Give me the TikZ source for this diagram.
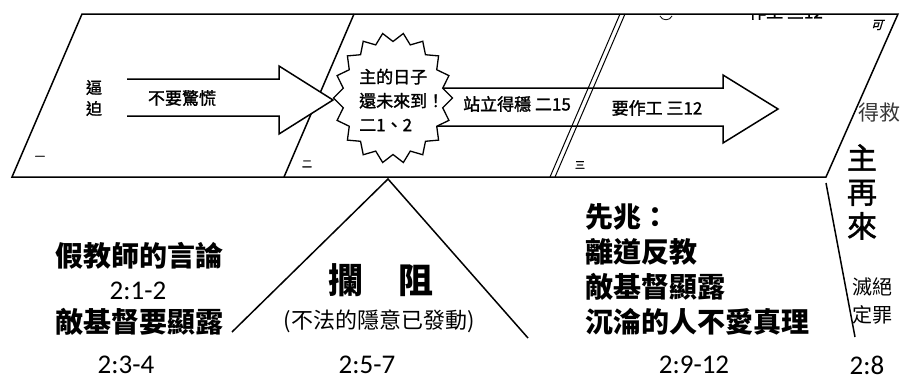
\documentclass[tikz,border=0pt]{standalone}
\usepackage{fontspec}
\setmainfont{Noto Sans CJK TC}
\newfontfamily\scanfont[FakeBold=1.5]{Noto Sans CJK TC}
\newfontfamily\refnum{Carlito}
\usetikzlibrary{positioning}
\definecolor{softblack}{HTML}{383838}

\begin{document}
\begin{tikzpicture}[x=1pt,y=-1pt,
frame/.style={line width=1.5pt,line join=miter},
blockarrow/.style={line width=1.5pt,fill=white,line join=miter},
txt/.style={inner sep=0pt,align=center},
small/.style={txt,font=\fontsize{17}{24}\selectfont\scanfont},
big/.style={txt,font=\fontsize{28}{35}\selectfont\bfseries},
ref/.style={txt,font=\fontsize{27}{29}\selectfont\refnum}]
\useasboundingbox (0,0) rectangle (903,381);

% the three ages
\draw[frame] (82,14) -- (898,14) -- (826,177) -- (12,177) -- cycle;
\draw[frame] (354,14) -- (284,177);

% arrows and the burst
\draw[blockarrow] (127,79) -- (279,79) -- (279,66) -- (333,100) -- (279,134) -- (279,116) -- (127,116);
\draw[blockarrow] (420,88) -- (723,88) -- (723,75) -- (778,109) -- (723,143) -- (723,126) -- (420,126);
\draw[blockarrow,line width=1.3pt] plot[domain=0:360,samples=37,variable=\t]
  ({393+(55+4.5*cos(18*\t))*cos(\t)},{98+(61+4.5*cos(18*\t))*sin(\t)}) -- cycle;
\draw[line width=1pt] (620,14) -- (550,177);
\draw[line width=1pt] (625,14) -- (555,177);

\node[small,font=\fontsize{16}{21}\selectfont\scanfont] (pursue) at (94,98) {逼\\迫};
\node[small] (nofear) at (182,98) {不要驚慌};
\node[small,anchor=west,align=left] (burst) at (359,100) {主的日子\\還未來到！\\二1、2};
\node[small] (stand) at (517,104) {站立得穩 二15};
\node[small] (work) at (657,108) {要作工 三12};
\foreach \x/\y/\s [count=\i] in {40/158/一,307/164/二,580/165/三}
  \node[txt,font=\fontsize{10}{10}\selectfont\scanfont] (age\i) at (\x,\y) {\s};

% scraps at the top edge
\begin{scope}
\clip (700,15) rectangle (840,26);
\node[small] (scrap) at (786,12) {作工 三12};
\end{scope}
\draw[line width=0.8pt] (660,16) .. controls (662,21) and (670,21) .. (672,16);
\node[txt,font=\fontsize{12}{12}\selectfont\scanfont,xslant=0.3,transform shape] (ke) at (878,25) {可};

% coming
\node[txt,font=\fontsize{21}{21}\selectfont,text=softblack] (saved) at (879,113) {得救};
\node[txt,font=\fontsize{30}{34}\selectfont\scanfont] (coming) at (862,192) {主\\再\\來};
\node[txt,font=\fontsize{20}{28}\selectfont] (judged) at (872,301) {滅絕\\定罪};
\draw[frame] (826,183) -- (855,337);

% restrainer
\coordinate (apex) at (388,179);
\coordinate (legl) at (232,332);
\coordinate (legr) at (528,338);
\draw[frame] (legl) -- (apex) -- (legr);
\node[txt,font=\fontsize{35}{35}\selectfont\bfseries] (hold) at (381,280) {攔　阻};
\node[txt,font=\fontsize{22}{22}\selectfont] (lawless) at (379,321) {(不法的隱意已發動)};

% signs
\node[big] (teach) at (140,256) {假教師的言論};
\node[ref] (teachref) at (138,291) {2:1-2};
\node[big] (anti) at (140,322) {敵基督要顯露};
\node[big,anchor=west,align=left] (signs) at (585,269.5) {先兆：\\離道反教\\敵基督顯露\\沉淪的人不愛真理};

\foreach \x/\r [count=\i] in {126/2:3-4,367/2:5-7,694/2:9-12,867/2:8}
  \node[ref] (ref\i) at (\x,365) {\r};
\end{tikzpicture}
\end{document}
